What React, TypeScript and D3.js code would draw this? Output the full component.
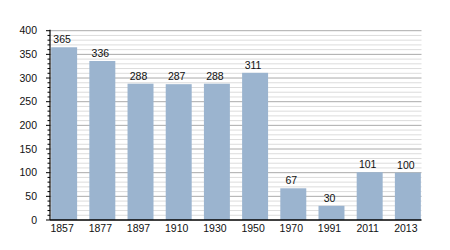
import React from "react";
import * as d3 from "d3";

const years = ["1857", "1877", "1897", "1910", "1930", "1950", "1970", "1991", "2011", "2013"];
const values = [365, 336, 288, 287, 288, 311, 67, 30, 101, 100];
const yTicks = [0, 50, 100, 150, 200, 250, 300, 350, 400];
const yMinor = d3.range(0, 401, 10);

const W = 450, H = 250;
const left = 50, right = 422, top = 30.7, bottom = 220;
const font = "'Liberation Sans', Arial, Helvetica, sans-serif";
const fs = 10.5;

export default function App() {
  const x = d3.scaleBand<string>().domain(years).range([left, right]).paddingInner(0.32).paddingOuter(0.03);
  const y = d3.scaleLinear().domain([0, 400]).range([bottom, top]);
  const gridRight = 421.5;
  return (
    <svg width={W} height={H} style={{ position: "absolute", left: 0, top: 0 }} fontFamily={font}>
      <rect width={W} height={H} fill="#fff" />
      {yMinor.filter(v => v % 50 !== 0).map(v => (
        <line key={"m" + v} x1={left} x2={gridRight} y1={y(v)} y2={y(v)} stroke="#dcdcdc" strokeWidth={1} />
      ))}
      {yTicks.filter(v => v > 0).map(v => (
        <line key={"g" + v} x1={left} x2={gridRight} y1={y(v)} y2={y(v)} stroke="#aaaaaa" strokeWidth={1} />
      ))}
      {values.map((v, i) => (
        <rect key={years[i]} x={x(years[i])} y={y(v)} width={x.bandwidth()} height={y(0) - y(v)} fill="#9bb4cf" />
      ))}
      {values.map((v, i) => (
        <text key={"l" + years[i]} x={(x(years[i]) as number) + x.bandwidth() / 2 - 2} y={y(v) - 4} textAnchor="middle" fontSize={fs} fill="#111">{v}</text>
      ))}
      {yMinor.map(v => (
        <line key={"t" + v} x1={left - (v % 50 === 0 ? 4 : 2.5)} x2={left} y1={y(v)} y2={y(v)} stroke="#000" strokeWidth={1} />
      ))}
      {yTicks.map(v => (
        <text key={"yl" + v} x={37} y={y(v)} dy="0.35em" textAnchor="end" fontSize={fs} fill="#111">{v}</text>
      ))}
      <line x1={left} x2={left} y1={top - 1} y2={bottom} stroke="#000" strokeWidth={1.2} />
      <line x1={left} x2={gridRight} y1={bottom} y2={bottom} stroke="#000" strokeWidth={1.5} />
      {years.map(yr => (
        <text key={"x" + yr} x={(x(yr) as number) + x.bandwidth() / 2 - 2} y={232} textAnchor="middle" fontSize={fs} fill="#111">{yr}</text>
      ))}
    </svg>
  );
}
